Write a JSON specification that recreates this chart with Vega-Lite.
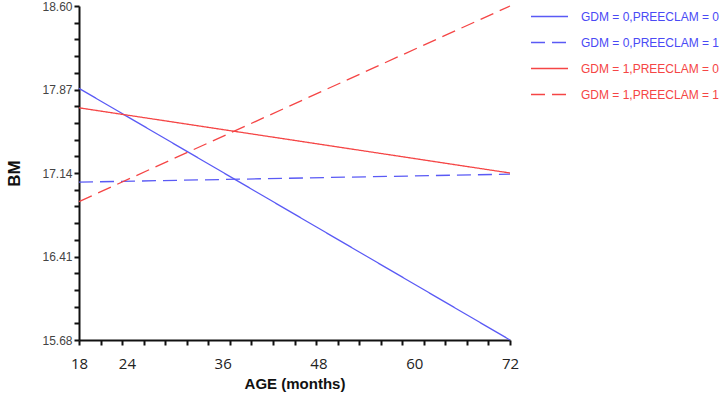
{
  "$schema": "https://vega.github.io/schema/vega-lite/v6.json",
  "width": 431,
  "height": 334,
  "autosize": {"type": "none"},
  "padding": {"left": 79, "top": 6, "right": 210, "bottom": 59},
  "background": "white",
  "config": {
    "view": {"stroke": null},
    "font": "Liberation Sans"
  },
  "data": {
    "values": [
      {"age": 18, "bm": 17.88, "group": "GDM = 0,PREECLAM = 0"},
      {"age": 72, "bm": 15.68, "group": "GDM = 0,PREECLAM = 0"},
      {"age": 18, "bm": 17.06, "group": "GDM = 0,PREECLAM = 1"},
      {"age": 72, "bm": 17.13, "group": "GDM = 0,PREECLAM = 1"},
      {"age": 18, "bm": 17.71, "group": "GDM = 1,PREECLAM = 0"},
      {"age": 72, "bm": 17.14, "group": "GDM = 1,PREECLAM = 0"},
      {"age": 18, "bm": 16.89, "group": "GDM = 1,PREECLAM = 1"},
      {"age": 72, "bm": 18.60, "group": "GDM = 1,PREECLAM = 1"}
    ]
  },
  "resolve": {"scale": {"x": "independent"}, "axis": {"x": "independent"}},
  "layer": [
    {
      "mark": {"type": "line", "strokeWidth": 1.3, "clip": false},
      "encoding": {
        "x": {
          "field": "age", "type": "quantitative",
          "scale": {"domain": [18, 72], "nice": false, "zero": false},
          "axis": {
            "orient": "bottom",
            "values": [18, 20.7, 23.4, 26.1, 28.8, 31.5, 34.2, 36.9, 39.6, 42.3, 45, 47.7, 50.4, 53.1, 55.8, 58.5, 61.2, 63.9, 66.6, 69.3, 72],
            "labels": false, "title": null, "grid": false,
            "domainColor": "#111", "domainWidth": 2,
            "tickColor": "#111", "tickWidth": 2, "tickSize": 5
          }
        },
        "y": {
          "field": "bm", "type": "quantitative",
          "scale": {"domain": [15.68, 18.6], "nice": false, "zero": false},
          "axis": {
            "values": [15.68, 15.826, 15.972, 16.118, 16.264, 16.41, 16.556, 16.702, 16.848, 16.994, 17.14, 17.286, 17.432, 17.578, 17.724, 17.87, 18.016, 18.162, 18.308, 18.454, 18.6],
            "labelExpr": "indexof(['15.68','16.41','17.14','17.87','18.60'], format(datum.value,'.2f')) >= 0 ? format(datum.value,'.2f') : ''",
            "labelOverlap": false, "labelBound": false, "labelFlush": false,
            "grid": false,
            "domainColor": "#111", "domainWidth": 2,
            "tickColor": "#111", "tickWidth": 2, "tickSize": 5,
            "labelFontSize": 12, "labelColor": "#444", "labelPadding": 2,
            "title": "BM", "titleFontSize": 17, "titleFontWeight": "bold", "titleColor": "#111",
            "titlePadding": 18
          }
        },
        "detail": {"field": "group"},
        "color": {
          "field": "group", "type": "nominal",
          "scale": {
            "domain": ["GDM = 0,PREECLAM = 0", "GDM = 0,PREECLAM = 1", "GDM = 1,PREECLAM = 0", "GDM = 1,PREECLAM = 1"],
            "range": ["#5a5af5", "#5a5af5", "#f54545", "#f54545"]
          },
          "legend": {
            "orient": "none", "legendX": 451, "legendY": -9,
            "title": null, "symbolType": "stroke", "symbolSize": 1369,
            "symbolStrokeWidth": 1.3, "labelFontSize": 12, "labelOffset": 12,
            "rowPadding": -4, "padding": 0,
            "encode": {"labels": {"update": {"fill": {"signal": "indexof(datum.value, 'GDM = 1') >= 0 ? '#f54545' : '#4a4af5'"}}}}
          }
        },
        "strokeDash": {
          "field": "group", "type": "nominal",
          "scale": {
            "domain": ["GDM = 0,PREECLAM = 0", "GDM = 0,PREECLAM = 1", "GDM = 1,PREECLAM = 0", "GDM = 1,PREECLAM = 1"],
            "range": [[1, 0], [14, 7], [1, 0], [14, 7]]
          },
          "legend": {
            "orient": "none", "legendX": 451, "legendY": -9,
            "title": null, "symbolType": "stroke", "symbolSize": 1369,
            "symbolStrokeWidth": 1.3, "labelFontSize": 12, "labelOffset": 12,
            "rowPadding": -4, "padding": 0,
            "encode": {"labels": {"update": {"fill": {"signal": "indexof(datum.value, 'GDM = 1') >= 0 ? '#f54545' : '#4a4af5'"}}}}
          }
        }
      }
    },
    {
      "mark": {"type": "line", "opacity": 0},
      "encoding": {
        "x": {
          "field": "age", "type": "quantitative",
          "scale": {"domain": [18, 72], "nice": false, "zero": false},
          "axis": {
            "orient": "bottom",
            "values": [18, 24, 36, 48, 60, 72],
            "ticks": false, "domain": false, "grid": false,
            "labelFlush": false, "labelOverlap": false,
            "labelFontSize": 15, "labelColor": "#222", "labelPadding": 16,
            "labelFont": "Open Sans",
            "title": "AGE (months)", "titleFontSize": 15, "titleFontWeight": "bold",
            "titleColor": "#111", "titlePadding": 5
          }
        },
        "y": {
          "field": "bm", "type": "quantitative",
          "scale": {"domain": [15.68, 18.6], "nice": false, "zero": false},
          "axis": {
            "values": [15.68, 15.826, 15.972, 16.118, 16.264, 16.41, 16.556, 16.702, 16.848, 16.994, 17.14, 17.286, 17.432, 17.578, 17.724, 17.87, 18.016, 18.162, 18.308, 18.454, 18.6],
            "labelExpr": "indexof(['15.68','16.41','17.14','17.87','18.60'], format(datum.value,'.2f')) >= 0 ? format(datum.value,'.2f') : ''",
            "labelOverlap": false, "labelBound": false, "labelFlush": false,
            "grid": false,
            "domainColor": "#111", "domainWidth": 2,
            "tickColor": "#111", "tickWidth": 2, "tickSize": 5,
            "labelFontSize": 12, "labelColor": "#444", "labelPadding": 2,
            "title": "BM", "titleFontSize": 17, "titleFontWeight": "bold", "titleColor": "#111",
            "titlePadding": 18
          }
        },
        "detail": {"field": "group"}
      }
    }
  ]
}
